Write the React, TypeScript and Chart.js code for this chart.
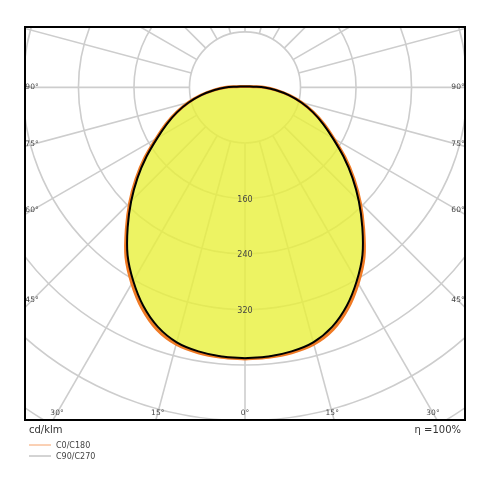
import { useEffect, useRef } from 'react';
import { Chart, registerables } from 'chart.js';

Chart.register(...registerables);

// gamma angles (deg) and luminous intensity in cd/klm
const angles = [0, 5, 10, 15, 20, 25, 30, 35, 40, 45, 50, 55, 60, 65, 70, 75, 80, 85, 90, 95, 100];
const c0c180 = [391, 390, 388, 383, 371, 351, 326, 299, 266, 235, 205, 176, 148, 126, 105, 85, 65, 45, 29, 12, 7];
const c90c270 = [390, 389, 386, 380, 367, 347, 322, 295, 263, 232, 202, 173, 146, 124, 104, 84, 64, 44, 28, 12, 7];

const circleValues = [80, 160, 240, 320, 400, 480, 560, 640];
const valueLabels = [160, 240, 320];
const angleLabels = [0, 15, 30, 45, 60, 75, 90];

const seriesNames = ['C0/C180', 'C90/C270'];
const unitLabel = 'cd/klm';
const efficiencyLabel = 'η =100%';

const toPoints = (vals: number[]) => {
  const right = angles.map((a, i) => {
    const r = (a * Math.PI) / 180;
    return { x: vals[i] * Math.sin(r), y: -vals[i] * Math.cos(r) };
  });
  const left = right.slice().reverse().map((p) => ({ x: -p.x, y: p.y }));
  return [...right, ...left];
};

const polarGrid = {
  id: 'polarGrid',
  beforeDatasetsDraw(chart: any) {
    const { ctx, chartArea, scales } = chart;
    const cx = scales.x.getPixelForValue(0);
    const cy = scales.y.getPixelForValue(0);
    const k = scales.x.getPixelForValue(1) - cx;
    ctx.save();
    ctx.beginPath();
    ctx.rect(chartArea.left, chartArea.top, chartArea.right - chartArea.left, chartArea.bottom - chartArea.top);
    ctx.clip();
    ctx.strokeStyle = '#cdcdcd';
    ctx.lineWidth = 1.6;
    circleValues.forEach((v) => {
      ctx.beginPath();
      ctx.arc(cx, cy, v * k, 0, Math.PI * 2);
      ctx.stroke();
    });
    const r0 = circleValues[0] * k;
    for (let a = 0; a < 360; a += 15) {
      const t = (a * Math.PI) / 180;
      const dx = Math.sin(t);
      const dy = Math.cos(t);
      ctx.beginPath();
      ctx.moveTo(cx + dx * r0, cy + dy * r0);
      ctx.lineTo(cx + dx * 1000, cy + dy * 1000);
      ctx.stroke();
    }
    ctx.restore();
  },
  afterDatasetsDraw(chart: any) {
    const { ctx, chartArea, scales } = chart;
    const cx = scales.x.getPixelForValue(0);
    const cy = scales.y.getPixelForValue(0);
    ctx.save();
    ctx.fillStyle = '#444';
    ctx.textAlign = 'center';
    ctx.textBaseline = 'middle';
    ctx.font = '8px "DejaVu Sans"';
    valueLabels.forEach((v) => {
      ctx.fillText(String(v), cx, scales.y.getPixelForValue(-v) + 1);
    });
    ctx.font = '7.5px "DejaVu Sans"';
    const side = cx - chartArea.left - 7;
    const down = chartArea.bottom - 7 - cy;
    angleLabels.forEach((a) => {
      const t = (a * Math.PI) / 180;
      const sides = a === 0 ? [1] : [-1, 1];
      sides.forEach((s) => {
        const dx = Math.sin(t);
        const dy = Math.cos(t);
        const ts = dx > 0 ? side / dx : Infinity;
        const tb = dy > 1e-6 ? down / dy : Infinity;
        const d = Math.min(ts, tb);
        ctx.fillText(a + '°', cx + s * dx * d, cy + dy * d);
      });
    });
    // frame
    ctx.strokeStyle = '#000';
    ctx.lineWidth = 2;
    ctx.strokeRect(chartArea.left, chartArea.top, chartArea.right - chartArea.left, chartArea.bottom - chartArea.top);
    // footer texts
    ctx.fillStyle = '#333';
    ctx.font = '10px "DejaVu Sans"';
    ctx.textAlign = 'left';
    ctx.fillText(unitLabel, chartArea.left + 4, chartArea.bottom + 10);
    ctx.textAlign = 'right';
    ctx.fillText(efficiencyLabel, chartArea.right - 4, chartArea.bottom + 10);
    // legend
    const colors = ['#f6a26a', '#a8a8a8'];
    ctx.font = '8px "DejaVu Sans"';
    ctx.textAlign = 'left';
    seriesNames.forEach((name, i) => {
      const y = chartArea.bottom + 25 + i * 11;
      ctx.strokeStyle = colors[i];
      ctx.lineWidth = 1;
      ctx.beginPath();
      ctx.moveTo(chartArea.left + 4, y);
      ctx.lineTo(chartArea.left + 26, y);
      ctx.stroke();
      ctx.fillStyle = '#444';
      ctx.fillText(name, chartArea.left + 31, y + 1);
    });
    ctx.restore();
  },
};

export default function App() {
  const canvasRef = useRef<HTMLCanvasElement>(null);

  useEffect(() => {
    if (!canvasRef.current) return;
    const chart = new Chart(canvasRef.current, {
      type: 'scatter',
      data: {
        datasets: [
          {
            label: seriesNames[1],
            data: toPoints(c90c270),
            showLine: true,
            borderColor: '#000',
            borderWidth: 2,
            pointRadius: 0,
            tension: 0.3,
            fill: false,
            order: 0,
          },
          {
            label: seriesNames[0],
            data: toPoints(c0c180),
            showLine: true,
            borderColor: '#f07a24',
            borderWidth: 3,
            pointRadius: 0,
            tension: 0.3,
            fill: 'shape',
            backgroundColor: 'rgba(232, 240, 60, 0.8)',
            order: 1,
          },
        ],
      },
      options: {
        animation: false,
        responsive: true,
        maintainAspectRatio: false,
        layout: { padding: { left: 25, right: 25, top: 27, bottom: 70 } },
        scales: {
          x: { type: 'linear', min: -317, max: 317, display: false },
          y: { type: 'linear', min: -479, max: 87, display: false },
        },
        plugins: {
          legend: { display: false },
          tooltip: { enabled: false },
        },
      },
      plugins: [polarGrid],
    });
    return () => chart.destroy();
  }, []);

  return (
    <div style={{ position: 'absolute', left: 0, top: 0, width: 490, height: 490, background: '#fff' }}>
      <canvas ref={canvasRef} />
    </div>
  );
}
